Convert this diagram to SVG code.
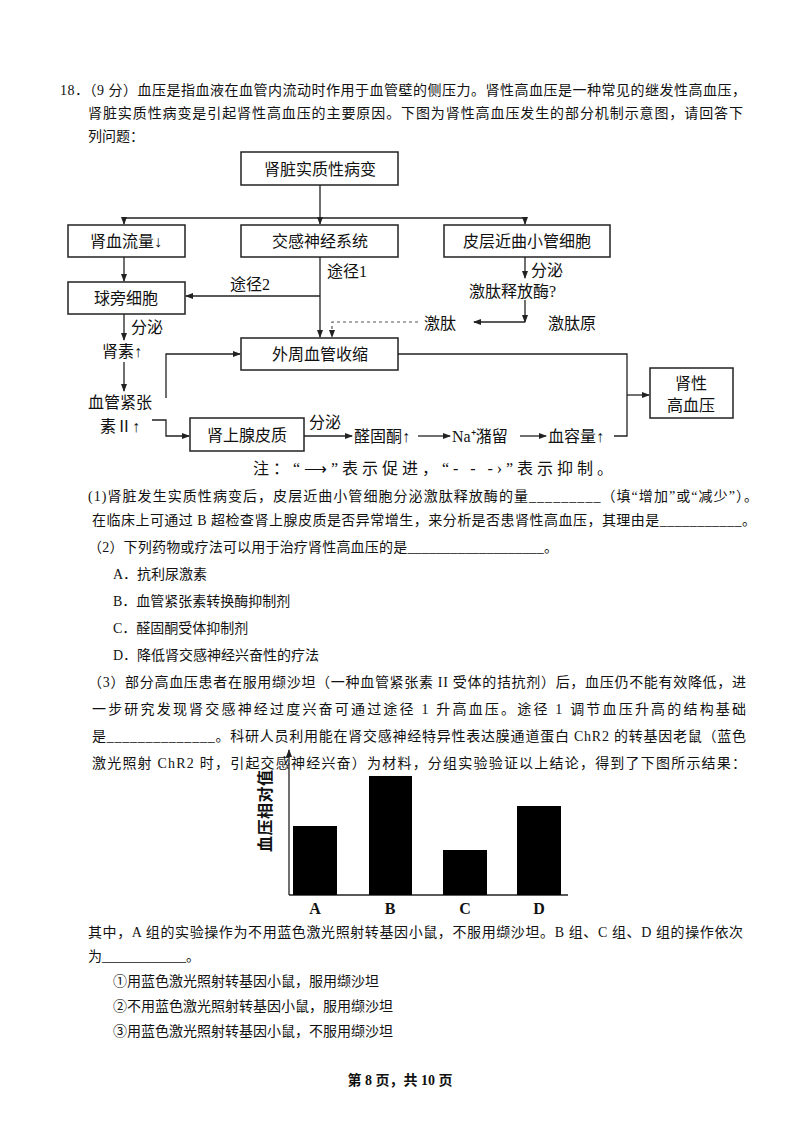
<svg xmlns="http://www.w3.org/2000/svg" width="800" height="1132" viewBox="0 0 800 1132">
<style>
text{font-family:"Liberation Serif","Noto Sans CJK SC",serif;font-size:14px;fill:#111}
.n{font-size:16px}
.b{fill:#fff;stroke:#222;stroke-width:1.5}
.l{fill:none;stroke:#222;stroke-width:1.3}
.d{fill:none;stroke:#555;stroke-width:1.2;stroke-dasharray:3,3}
</style>
<defs><marker id="a" markerWidth="8" markerHeight="8" refX="7" refY="4" orient="auto" markerUnits="userSpaceOnUse"><path d="M0,1 L8,4 L0,7 z" fill="#222"/></marker></defs>
<rect width="800" height="1132" fill="#fff"/>
<text x="60" y="95" textLength="686" lengthAdjust="spacing">18．（9 分）血压是指血液在血管内流动时作用于血管壁的侧压力。肾性高血压是一种常见的继发性高血压，</text>
<text x="88" y="118" textLength="655" lengthAdjust="spacing">肾脏实质性病变是引起肾性高血压的主要原因。下图为肾性高血压发生的部分机制示意图，请回答下</text>
<text x="88" y="141">列问题：</text>
<g id="connectors">
<path class="l" d="M320,185 V218 M124,218 H525 M124,218 V224" marker-end="url(#a)"/>
<path class="l" d="M320,218 V224" marker-end="url(#a)"/>
<path class="l" d="M525,218 V224" marker-end="url(#a)"/>
<path class="l" d="M124,257 V281" marker-end="url(#a)"/>
<path class="l" d="M320,257 V337" marker-end="url(#a)"/>
<path class="l" d="M320,296 H186" marker-end="url(#a)"/>
<path class="l" d="M525,257 V278" marker-end="url(#a)"/>
<path class="l" d="M525,300 V322" marker-end="url(#a)"/>
<path class="l" d="M525,322 H474" marker-end="url(#a)"/>
<path class="d" d="M418,322 H332 V337" marker-end="url(#a)"/>
<path class="l" d="M124,314 V340" marker-end="url(#a)"/>
<path class="l" d="M124,362 V391" marker-end="url(#a)"/>
<path class="l" d="M166,398 V354 H240" marker-end="url(#a)"/>
<path class="l" d="M152,420 H166 V436 H189" marker-end="url(#a)"/>
<path class="l" d="M398,354 H627 V436 H614"/>
<path class="l" d="M627,395 H649" marker-end="url(#a)"/>
<path class="l" d="M304,436 H352" marker-end="url(#a)"/>
<path class="l" d="M418,436 H450" marker-end="url(#a)"/>
<path class="l" d="M520,436 H546" marker-end="url(#a)"/>
</g>
<g id="n1"><rect class="b" x="241" y="152" width="157" height="33"/><text class="n" x="320" y="175" text-anchor="middle">肾脏实质性病变</text></g>
<g id="n2"><rect class="b" x="68" y="225" width="117" height="32"/><text class="n" x="126" y="247" text-anchor="middle">肾血流量↓</text></g>
<g id="n3"><rect class="b" x="241" y="225" width="157" height="32"/><text class="n" x="320" y="247" text-anchor="middle">交感神经系统</text></g>
<g id="n4"><rect class="b" x="444" y="225" width="166" height="32"/><text class="n" x="527" y="247" text-anchor="middle">皮层近曲小管细胞</text></g>
<g id="n5"><rect class="b" x="68" y="282" width="117" height="32"/><text class="n" x="126" y="304" text-anchor="middle">球旁细胞</text></g>
<g id="n6"><rect class="b" x="241" y="338" width="157" height="32"/><text class="n" x="320" y="360" text-anchor="middle">外周血管收缩</text></g>
<g id="n7"><rect class="b" x="190" y="418" width="114" height="33"/><text class="n" x="247" y="441" text-anchor="middle">肾上腺皮质</text></g>
<g id="n8"><rect class="b" x="650" y="368" width="83" height="50"/><text class="n" x="691" y="389" text-anchor="middle">肾性</text><text class="n" x="691" y="411" text-anchor="middle">高血压</text></g>
<g class="labels">
<text class="n" x="327" y="277">途径1</text>
<text class="n" x="230" y="290">途径2</text>
<text class="n" x="531" y="276">分泌</text>
<text class="n" x="469" y="297">激肽释放酶?</text>
<text class="n" x="548" y="329">激肽原</text>
<text class="n" x="424" y="329">激肽</text>
<text class="n" x="131" y="333">分泌</text>
<text class="n" x="102" y="357">肾素↑</text>
<text class="n" x="88" y="408">血管紧张</text>
<text class="n" x="100" y="432">素Ⅱ↑</text>
<text class="n" x="309" y="428">分泌</text>
<text class="n" x="354" y="442">醛固酮↑</text>
<text class="n" x="452" y="442">Na⁺潴留</text>
<text class="n" x="548" y="442">血容量↑</text>
<text class="n" x="253" y="474" textLength="360" lengthAdjust="spacing">注：“⟶”表示促进，“- - -›”表示抑制。</text>
</g>
<text x="88" y="501" textLength="670" lengthAdjust="spacing">(1)肾脏发生实质性病变后，皮层近曲小管细胞分泌激肽释放酶的量_________（填“增加”或“减少”）。</text>
<text x="92" y="525" textLength="664" lengthAdjust="spacing">在临床上可通过 B 超检查肾上腺皮质是否异常增生，来分析是否患肾性高血压，其理由是___________。</text>
<text x="88" y="552" textLength="470" lengthAdjust="spacing">（2）下列药物或疗法可以用于治疗肾性高血压的是___________________。</text>
<text x="113" y="579">A．抗利尿激素</text>
<text x="113" y="606">B．血管紧张素转换酶抑制剂</text>
<text x="113" y="633">C．醛固酮受体抑制剂</text>
<text x="113" y="660">D．降低肾交感神经兴奋性的疗法</text>
<text x="88" y="687" textLength="658" lengthAdjust="spacing">（3）部分高血压患者在服用缬沙坦（一种血管紧张素 II 受体的拮抗剂）后，血压仍不能有效降低，进</text>
<text x="92" y="714" textLength="654" lengthAdjust="spacing">一步研究发现肾交感神经过度兴奋可通过途径 1 升高血压。途径 1 调节血压升高的结构基础</text>
<text x="92" y="741" textLength="654" lengthAdjust="spacing">是______________。科研人员利用能在肾交感神经特异性表达膜通道蛋白 ChR2 的转基因老鼠（蓝色</text>
<text x="92" y="768" textLength="654" lengthAdjust="spacing">激光照射 ChR2 时，引起交感神经兴奋）为材料，分组实验验证以上结论，得到了下图所示结果：</text>
<g id="chart">
<path class="l" d="M289,895 V750" marker-end="url(#a)"/>
<path class="l" d="M289,895 H568"/>
<rect x="293" y="826" width="44" height="69" fill="#000"/>
<rect x="369" y="776" width="43" height="119" fill="#000"/>
<rect x="443" y="850" width="44" height="45" fill="#000"/>
<rect x="517" y="806" width="44" height="89" fill="#000"/>
<text class="n" transform="translate(271,852) rotate(-90)" font-weight="bold" textLength="82" lengthAdjust="spacing">血压相对值</text>
<text x="315" y="914" text-anchor="middle" font-weight="bold" class="n">A</text>
<text x="390" y="914" text-anchor="middle" font-weight="bold" class="n">B</text>
<text x="465" y="914" text-anchor="middle" font-weight="bold" class="n">C</text>
<text x="539" y="914" text-anchor="middle" font-weight="bold" class="n">D</text>
</g>
<text x="88" y="937" textLength="655" lengthAdjust="spacing">其中，A 组的实验操作为不用蓝色激光照射转基因小鼠，不服用缬沙坦。B 组、C 组、D 组的操作依次</text>
<text x="88" y="961">为____________。</text>
<text x="113" y="986">①用蓝色激光照射转基因小鼠，服用缬沙坦</text>
<text x="113" y="1011">②不用蓝色激光照射转基因小鼠，服用缬沙坦</text>
<text x="113" y="1036">③用蓝色激光照射转基因小鼠，不服用缬沙坦</text>
<text x="400" y="1085" text-anchor="middle" font-size="13" font-weight="bold">第 8 页，共 10 页</text>
</svg>
